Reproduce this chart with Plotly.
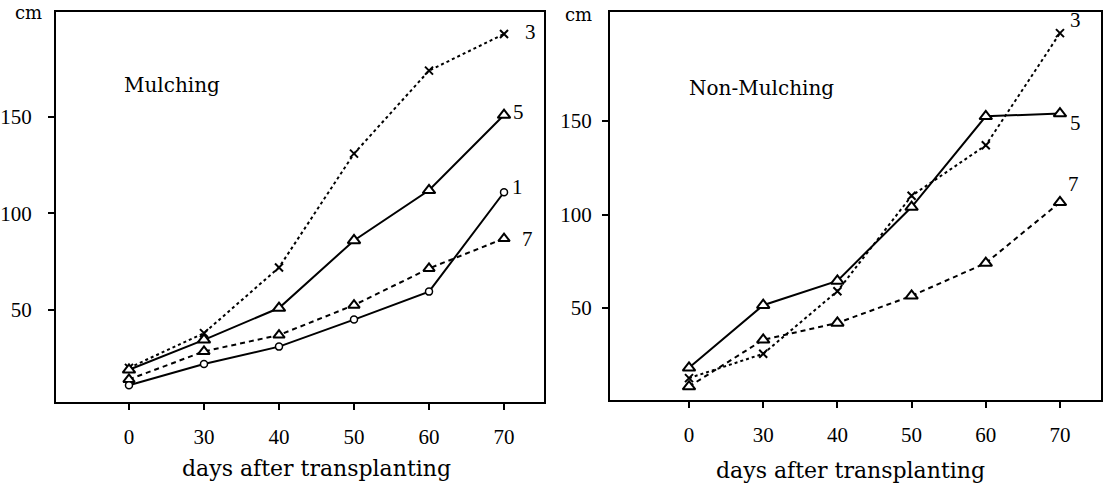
import plotly.graph_objects as go

# ---------------- data ----------------
days = ["0", "30", "40", "50", "60", "70"]
xpos = [0, 1, 2, 3, 4, 5]

# Mulching panel (cm)
mulch_3 = [20, 38, 72, 131, 174, 193]
mulch_5 = [19, 34.5, 51, 86, 112, 151]
mulch_7 = [14, 28.5, 37, 52.5, 71.5, 87]
mulch_1 = [11, 22, 31, 45, 59.5, 111]

# Non-Mulching panel (cm)
non_3 = [12.5, 25.5, 59, 110, 137, 197]
non_5 = [18, 51.5, 64.5, 104, 152.5, 154]
non_7 = [8, 33, 42, 56.5, 74, 106.5]

panel_titles = ["Mulching", "Non-Mulching"]
x_title = "days after transplanting"
y_unit = "cm"
y_ticks = [50, 100, 150]

SERIF = "Liberation Serif, Times New Roman, serif"
WIDE_SERIF = "DejaVu Serif, serif"
BLACK = "black"

fig = go.Figure()


def add_series(y, xa, ya, dash, symbol, msize, mcolor, mlw=2):
    fig.add_trace(go.Scatter(
        x=xpos, y=y, xaxis=xa, yaxis=ya, mode="lines+markers",
        line=dict(color=BLACK, width=2, dash=dash),
        marker=dict(symbol=symbol, size=msize, color=mcolor,
                    line=dict(color=BLACK, width=mlw)),
        showlegend=False, hoverinfo="skip", cliponaxis=False))


DOT = "3px,3px"
DASH = "5px,4px"

# left panel
add_series(mulch_3, "x", "y", DOT, "x-thin", 8, BLACK, 2)
add_series(mulch_5, "x", "y", "solid", "triangle-up", 11, "white", 2)
add_series(mulch_7, "x", "y", DASH, "triangle-up", 10, "white", 2)
add_series(mulch_1, "x", "y", "solid", "circle", 7, "white", 1.5)

# right panel
add_series(non_3, "x2", "y2", DOT, "x-thin", 8, BLACK, 2)
add_series(non_5, "x2", "y2", "solid", "triangle-up", 11, "white", 2)
add_series(non_7, "x2", "y2", DASH, "triangle-up", 11, "white", 2)

axis_common = dict(
    showline=True, linecolor=BLACK, linewidth=2, mirror=True,
    ticks="outside", tickcolor=BLACK, tickwidth=2, ticklen=6,
    showgrid=False, zeroline=False, automargin=False,
    tickfont=dict(family=SERIF, size=21, color=BLACK),
)

fig.update_layout(
    width=1112, height=485,
    margin=dict(l=0, r=0, t=12, b=83),
    plot_bgcolor="white", paper_bgcolor="white",
    xaxis=dict(axis_common, domain=[56 / 1112, 544 / 1112],
               range=[-0.973, 5.533], tickvals=xpos, ticktext=days,
               ticklabelstandoff=9),
    yaxis=dict(axis_common, domain=[0, 1], range=[2.3, 204.4],
               tickvals=y_ticks, ticklabelstandoff=12, anchor="x"),
    xaxis2=dict(axis_common, domain=[610 / 1112, 1101 / 1112],
                range=[-1.065, 5.553], tickvals=xpos, ticktext=days,
                ticklabelstandoff=9, anchor="y2"),
    yaxis2=dict(axis_common, domain=[2 / 390, 1], range=[0.8, 208.3],
                tickvals=y_ticks, ticklabelstandoff=6, anchor="x2"),
)

ann = []
# panel titles
ann.append(dict(x=-0.09, y=166.6, xref="x", yref="y", text=panel_titles[0],
                xanchor="left", yanchor="middle", showarrow=False,
                font=dict(family=WIDE_SERIF, size=20, color=BLACK)))
ann.append(dict(x=-0.03, y=167.6, xref="x2", yref="y2", text=panel_titles[1],
                xanchor="left", yanchor="middle", showarrow=False,
                font=dict(family=WIDE_SERIF, size=20, color=BLACK)))
# y units
ann.append(dict(x=28 / 1112, y=1 - 1 / 390, xref="paper", yref="paper",
                text=y_unit, showarrow=False, xanchor="center", yanchor="middle",
                font=dict(family=WIDE_SERIF, size=18, color=BLACK)))
ann.append(dict(x=578 / 1112, y=1 - 3 / 390, xref="paper", yref="paper",
                text=y_unit, showarrow=False, xanchor="center", yanchor="middle",
                font=dict(family=WIDE_SERIF, size=18, color=BLACK)))
# x titles
ann.append(dict(x=2.5, y=-66 / 390, xref="x", yref="paper", text=x_title,
                showarrow=False, xanchor="center", yanchor="middle",
                font=dict(family=WIDE_SERIF, size=22, color=BLACK)))
ann.append(dict(x=2.18, y=-68 / 390, xref="x2", yref="paper", text=x_title,
                showarrow=False, xanchor="center", yanchor="middle",
                font=dict(family=WIDE_SERIF, size=22, color=BLACK)))

# series labels next to last points
lab_font = dict(family=SERIF, size=21, color=BLACK)
for name, ys, xs_, ys_, xa, ya in [
    ("3", mulch_3, 26, 2, "x", "y"),
    ("5", mulch_5, 14, 3, "x", "y"),
    ("1", mulch_1, 13, 5, "x", "y"),
    ("7", mulch_7, 23, 0, "x", "y"),
    ("3", non_3, 16, 13, "x2", "y2"),
    ("5", non_5, 16, -9, "x2", "y2"),
    ("7", non_7, 14, 18, "x2", "y2"),
]:
    ann.append(dict(x=xpos[-1], y=ys[-1], xref=xa, yref=ya, text=name,
                    showarrow=False, xshift=xs_, yshift=ys_,
                    xanchor="center", yanchor="middle", font=lab_font))

fig.update_layout(annotations=ann)
fig.write_html("out.html", config={"displayModeBar": False},
               post_script="document.body.style.margin='0';")
